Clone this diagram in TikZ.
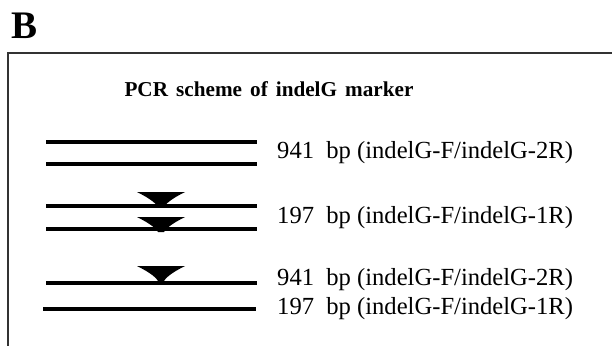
\documentclass[tikz,border=0pt]{standalone}
\usepackage{fontspec}
\setmainfont{Liberation Serif}
\begin{document}
\begin{tikzpicture}[x=1pt,y=-1pt,
  band/.style={line width=3.2pt, black},
  frame/.style={line width=1.6pt, black!80},
  label/.style={anchor=west, inner sep=0pt, font=\fontsize{24.6}{28}\selectfont},
  wedge/.style={fill=black, draw=none}]
\useasboundingbox (0,0) rectangle (612,345);

% panel letter and title
\node[anchor=west, inner sep=0pt, font=\fontsize{39}{40}\selectfont\bfseries] (panel) at (11,26) {B};
\node[inner sep=0pt, font=\fontsize{21.2}{24}\selectfont\bfseries] (title) at (269,89)
  {PCR\hspace{0.38em}scheme\hspace{0.38em}of\hspace{0.38em}indelG\hspace{0.38em}marker};

% open frame: only top and left edges lie inside the picture
\draw[frame] (640,53) -- (8,53) -- (8,360);

% DNA bands
\draw[band] (46,142) -- (257,142);
\draw[band] (46,164) -- (257,164);
\draw[band] (46,206) -- (257,206);
\draw[band] (46,229) -- (257,229);
\draw[band] (46,283) -- (257,283);
\draw[band] (43,309) -- (256,309);

% indel markers (wedges pointing down onto the bands)
\newcommand{\wedgeat}[2]{%
  \fill[wedge] (#1-24,#2) -- (#1+24,#2)
     .. controls (#1+14,#2+5) and (#1+6,#2+10) .. (#1+3,#2+15) -- (#1-3,#2+15)
     .. controls (#1-6,#2+10) and (#1-14,#2+5) .. cycle;}
\wedgeat{161}{192}
\wedgeat{161}{217}
\wedgeat{161}{266}

% product sizes
\node[label] (l1) at (277,153) {941\ \ bp (indelG-F/indelG-2R)};
\node[label] (l2) at (277,218) {197\ \ bp (indelG-F/indelG-1R)};
\node[label] (l3) at (277,280) {941\ \ bp (indelG-F/indelG-2R)};
\node[label] (l4) at (277,309) {197\ \ bp (indelG-F/indelG-1R)};
\end{tikzpicture}
\end{document}
